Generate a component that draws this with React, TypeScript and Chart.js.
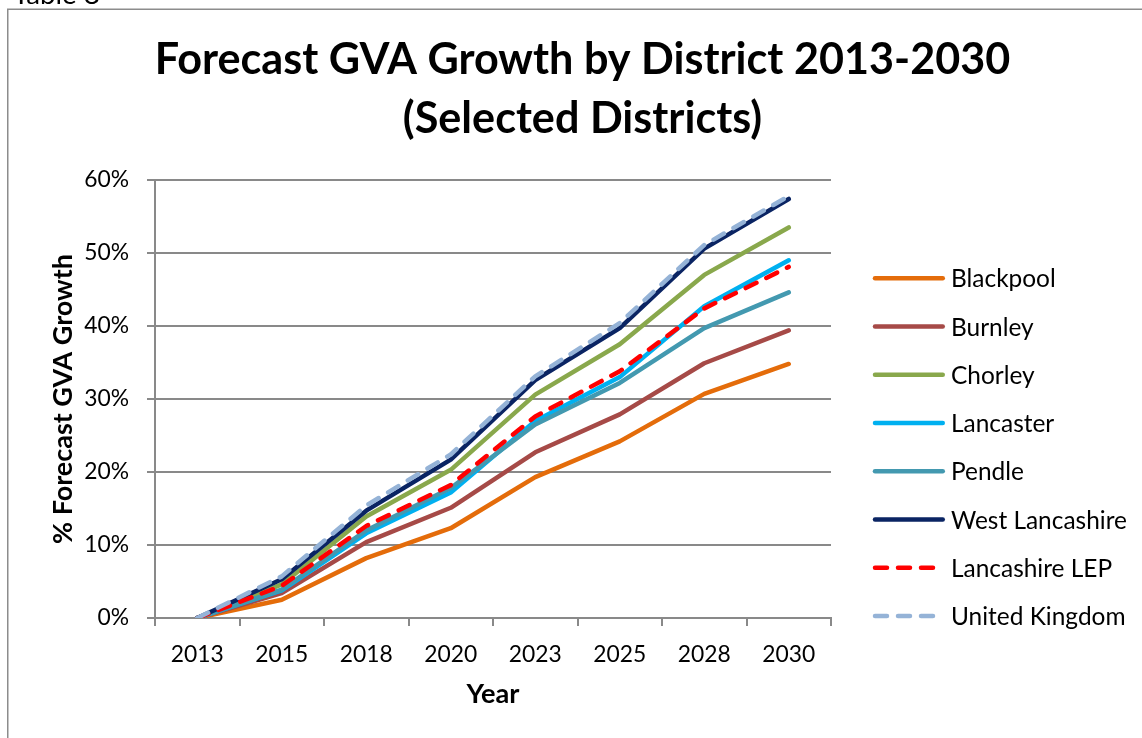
import React, { useEffect, useRef } from "react";
import { Chart, registerables } from "chart.js";

Chart.register(...registerables);

// ---------- data ----------
const years = ["2013", "2015", "2018", "2020", "2023", "2025", "2028", "2030"];
const yTickLabels = ["0%", "10%", "20%", "30%", "40%", "50%", "60%"];

const blackpool = [0, 2.5, 8.2, 12.3, 19.3, 24.2, 30.7, 34.8];
const burnley = [0, 3.4, 10.4, 15.1, 22.7, 27.9, 34.9, 39.4];
const chorley = [0, 4.6, 13.9, 20.3, 30.6, 37.5, 47.0, 53.5];
const lancaster = [0, 3.8, 11.6, 17.2, 27.0, 33.0, 42.7, 49.0];
const pendle = [0, 3.9, 12.0, 17.8, 26.5, 32.2, 39.7, 44.6];
const westLancashire = [0, 5.3, 14.7, 21.7, 32.6, 39.7, 50.6, 57.4];
const lancashireLEP = [0, 4.4, 12.6, 18.2, 27.6, 33.8, 42.4, 48.1];
const unitedKingdom = [0, 5.7, 15.4, 22.4, 33.1, 40.4, 51.1, 57.8];

const seriesNames = [
  "Blackpool",
  "Burnley",
  "Chorley",
  "Lancaster",
  "Pendle",
  "West Lancashire",
  "Lancashire LEP",
  "United Kingdom",
];
const seriesValues = [
  blackpool,
  burnley,
  chorley,
  lancaster,
  pendle,
  westLancashire,
  lancashireLEP,
  unitedKingdom,
];
const seriesColors = [
  "#E46C0A",
  "#A64A47",
  "#89A84C",
  "#00B0F0",
  "#4399B0",
  "#0A2463",
  "#FF0000",
  "#95B3D7",
];
const seriesDashed = [false, false, false, false, false, false, true, true];

const titleLines = ["Forecast GVA Growth by District 2013-2030", "(Selected Districts)"];
const xTitle = "Year";
const yTitle = "% Forecast GVA Growth";
const tableCaption = "Table 8";

// ---------- styling ----------
const FAMILY = "Lato, 'Open Sans', sans-serif";
const GRID = "#898989";
const DASH = [12, 11];

const mctx: CanvasRenderingContext2D | null =
  typeof document !== "undefined" ? document.createElement("canvas").getContext("2d") : null;
function fitSize(text: string, weight: string, target: number): number {
  if (!mctx) return 24;
  mctx.font = `${weight} 100px ${FAMILY}`;
  const w = mctx.measureText(text).width;
  return (100 * target) / w;
}

const titleSize = fitSize(titleLines[0], "bold", 856);
const legendSize = fitSize("West Lancashire", "normal", 176);
const tickSize = fitSize("2013", "normal", 53);
const xTitleSize = fitSize(xTitle, "bold", 53);
const yTitleSize = fitSize(yTitle, "bold", 290);
const captionSize = fitSize(tableCaption, "normal", 87);

const decorPlugin = {
  id: "decor",
  beforeDraw(chart: any) {
    const ctx = chart.ctx as CanvasRenderingContext2D;
    ctx.save();
    ctx.fillStyle = "#ffffff";
    ctx.fillRect(0, 0, chart.width, chart.height);
    // outer frame
    ctx.strokeStyle = "#8c8c8c";
    ctx.lineWidth = 1.5;
    ctx.beginPath();
    ctx.moveTo(7.75, chart.height + 10);
    ctx.lineTo(7.75, 9.25);
    ctx.lineTo(chart.width + 10, 9.25);
    ctx.stroke();
    // caption (cut off at top)
    ctx.fillStyle = "#000";
    ctx.textAlign = "left";
    ctx.textBaseline = "alphabetic";
    ctx.font = `normal ${captionSize}px ${FAMILY}`;
    ctx.fillText(tableCaption, 13, 4);
    // title
    ctx.textAlign = "center";
    ctx.font = `bold ${titleSize}px ${FAMILY}`;
    ctx.fillText(titleLines[0], 582.5, 73.5);
    ctx.fillText(titleLines[1], 582.5, 133);
    ctx.restore();
  },
  afterDraw(chart: any) {
    const ctx = chart.ctx as CanvasRenderingContext2D;
    ctx.save();
    chart.data.datasets.forEach((ds: any, i: number) => {
      const y = 278.3 + i * 48.25;
      ctx.strokeStyle = ds.borderColor;
      ctx.lineWidth = ds.borderWidth;
      ctx.lineCap = "round";
      const dashed = ds.borderDash && ds.borderDash.length > 0;
      ctx.setLineDash(dashed ? ds.borderDash : []);
      ctx.beginPath();
      ctx.moveTo(875, y);
      ctx.lineTo(dashed ? 934 : 942.75, y);
      ctx.stroke();
      ctx.setLineDash([]);
      ctx.fillStyle = "#000";
      ctx.textAlign = "left";
      ctx.textBaseline = "alphabetic";
      ctx.font = `normal ${legendSize}px ${FAMILY}`;
      ctx.fillText(ds.label, 951, y + 9);
    });
    ctx.restore();
  },
};

export default function App() {
  const ref = useRef<HTMLCanvasElement>(null);

  useEffect(() => {
    if (!ref.current) return;
    const n = seriesNames.length;
    const chart = new Chart(ref.current, {
      type: "line",
      data: {
        labels: years,
        datasets: seriesNames.map((name, i) => ({
          label: name,
          data: seriesValues[i],
          borderColor: seriesColors[i],
          backgroundColor: seriesColors[i],
          borderWidth: 4.5,
          borderDash: seriesDashed[i] ? DASH : [],
          borderCapStyle: "round",
          borderJoinStyle: "round",
          pointRadius: 0,
          pointHoverRadius: 0,
          tension: 0,
          fill: false,
          order: n - i,
        })),
      },
      options: {
        animation: false,
        responsive: false,
        events: [],
        layout: { padding: { top: 180, right: 311, bottom: 0, left: 0 } },
        plugins: {
          legend: { display: false },
          title: { display: false },
          tooltip: { enabled: false },
        },
        scales: {
          x: {
            type: "category",
            offset: true,
            grid: {
              display: true,
              drawOnChartArea: false,
              drawTicks: true,
              tickLength: 8,
              offset: true,
              color: GRID,
              lineWidth: 2,
            },
            border: { display: true, color: GRID, width: 2 },
            ticks: {
              font: { family: FAMILY, size: tickSize },
              color: "#000",
              padding: 15,
              maxRotation: 0,
              autoSkip: false,
            },
            title: {
              display: true,
              text: xTitle,
              color: "#000",
              font: { family: FAMILY, size: xTitleSize, weight: "bold" },
              padding: { top: 0, bottom: 27 },
            },
            afterFit: (s: any) => {
              s.height = 120;
            },
          },
          y: {
            min: 0,
            max: 60,
            grid: { color: GRID, lineWidth: 2, tickLength: 8, drawTicks: true },
            border: { display: true, color: GRID, width: 2 },
            ticks: {
              stepSize: 10,
              color: "#000",
              padding: 18,
              font: { family: FAMILY, size: tickSize },
              callback: (_v: any, idx: number) => yTickLabels[idx],
            },
            title: {
              display: true,
              text: yTitle,
              color: "#000",
              font: { family: FAMILY, size: yTitleSize, weight: "bold" },
              padding: { top: 47, bottom: 0 },
            },
            afterFit: (s: any) => {
              s.width = 155;
            },
          },
        },
      } as any,
      plugins: [decorPlugin],
    });
    return () => chart.destroy();
  }, []);

  return (
    <div
      style={{
        position: "fixed",
        left: 0,
        top: 0,
        width: 1142,
        height: 738,
        overflow: "hidden",
        background: "#fff",
      }}
    >
      <canvas ref={ref} width={1142} height={738} style={{ display: "block", width: 1142, height: 738 }} />
    </div>
  );
}
